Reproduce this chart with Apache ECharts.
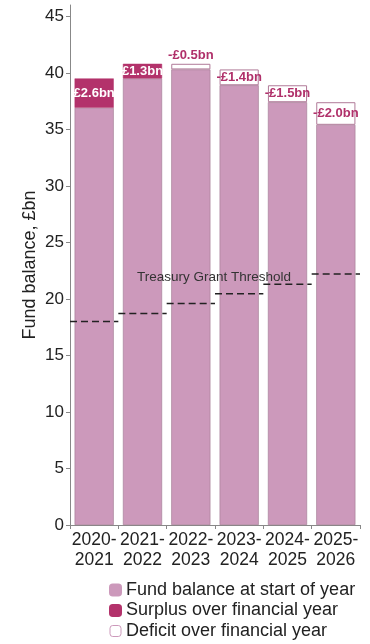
<!DOCTYPE html>
<html>
<head>
<meta charset="utf-8">
<script src="https://cdn.jsdelivr.net/npm/echarts@6/dist/echarts.min.js"></script>
<style>html,body{margin:0;padding:0;background:#fff;}#c{width:370px;height:644px;}</style>
</head>
<body>
<div id="c"></div>
<script>
const categories = ['2020-\n2021', '2021-\n2022', '2022-\n2023', '2023-\n2024', '2024-\n2025', '2025-\n2026'];
const startBalance = [36.9, 39.5, 40.8, 40.3, 38.9, 37.4];
const yearChange = [2.6, 1.3, -0.5, -1.4, -1.5, -2.0];
const threshold = [18.0, 18.7, 19.6, 20.45, 21.3, 22.2];
const yTicks = [0, 5, 10, 15, 20, 25, 30, 35, 40, 45];

const FONT = 'Liberation Sans, Arial, sans-serif';
const PINK = '#cc99bb', DARK = '#b3326b', LBL = '#b0306a';

const baseVals = startBalance.map((s, i) => +(s + Math.min(yearChange[i], 0)).toFixed(2));
const surplusVals = yearChange.map(c => c > 0 ? c : '-');
const deficitVals = yearChange.map(c => c < 0 ? -c : '-');
const fmt = v => (v < 0 ? '-' : '') + '£' + Math.abs(v).toFixed(1) + 'bn';

const chart = echarts.init(document.getElementById('c'), null, {renderer: 'canvas'});
chart.setOption({
  animation: false,
  textStyle: {fontFamily: FONT},
  grid: {left: 70, right: 10, top: 5, bottom: 119},
  xAxis: {
    type: 'category', data: categories,
    axisLine: {lineStyle: {color: '#888', width: 1}},
    axisTick: {show: true, lineStyle: {color: '#888'}, length: 4},
    axisLabel: {color: '#222', fontSize: 17.5, fontFamily: FONT, margin: 5, lineHeight: 20, interval: 0}
  },
  yAxis: {
    type: 'value', min: 0, max: 46,
    name: 'Fund balance, £bn', nameLocation: 'middle', nameGap: 31, nameMoveOverlap: false,
    nameTextStyle: {color: '#222', fontSize: 18, fontFamily: FONT},
    axisLine: {show: true, lineStyle: {color: '#888', width: 1}},
    axisTick: {show: true, length: 4, lineStyle: {color: '#888'}, customValues: yTicks},
    axisLabel: {color: '#222', fontSize: 17, fontFamily: FONT, margin: 6, customValues: yTicks},
    splitLine: {show: false}
  },
  legend: {
    orient: 'vertical', left: 104, bottom: -1, itemWidth: 11, itemHeight: 11, itemGap: 2.5,
    textStyle: {color: '#222', fontSize: 18, lineHeight: 18, fontFamily: FONT},
    data: [
      {name: 'Fund balance at start of year', itemStyle: {color: PINK, borderColor: PINK}},
      {name: 'Surplus over financial year', itemStyle: {color: DARK, borderColor: DARK}},
      {name: 'Deficit over financial year', itemStyle: {color: '#fff', borderColor: '#cc99bb', borderWidth: 1}}
    ]
  },
  series: [
    {
      name: 'Fund balance at start of year', type: 'bar', stack: 'a', data: baseVals,
      barCategoryGap: '19%',
      itemStyle: {color: PINK, borderColor: '#a07890', borderWidth: 0.6}
    },
    {
      name: 'Surplus over financial year', type: 'bar', stack: 'a', data: surplusVals,
      itemStyle: {color: DARK, borderColor: DARK, borderWidth: 0.5},
      label: {show: true, position: 'inside', color: '#fff', fontWeight: 'bold', fontSize: 13, fontFamily: FONT,
        formatter: p => fmt(p.value)}
    },
    {
      name: 'Deficit over financial year', type: 'bar', stack: 'a',
      data: deficitVals.map(v => v === '-' ? v : {value: v, label: {position: v < 1 ? 'top' : 'inside', distance: 2}}),
      itemStyle: {color: '#fff', borderColor: '#b07a98', borderWidth: 1},
      label: {show: true, color: LBL, fontWeight: 'bold', fontSize: 13, fontFamily: FONT,
        formatter: p => fmt(-p.value)}
    },
    {
      name: 'Treasury Grant Threshold', type: 'custom',
      data: threshold.map((v, i) => [i, v]),
      renderItem: (params, api) => {
        const pt = api.coord([api.value(0), api.value(1)]);
        const bw = api.size([1, 0])[0];
        return {type: 'line', shape: {x1: pt[0] - bw / 2, y1: pt[1], x2: pt[0] + bw / 2, y2: pt[1]},
          style: {stroke: '#222', lineWidth: 1.5, lineDash: [7, 4]}};
      },
      z: 5
    }
  ],
  graphic: [{
    type: 'text', left: 137, top: 270, z: 100,
    style: {text: 'Treasury Grant Threshold', fill: '#333', fontSize: 13.5, fontFamily: FONT}
  }]
});
</script>
</body>
</html>
